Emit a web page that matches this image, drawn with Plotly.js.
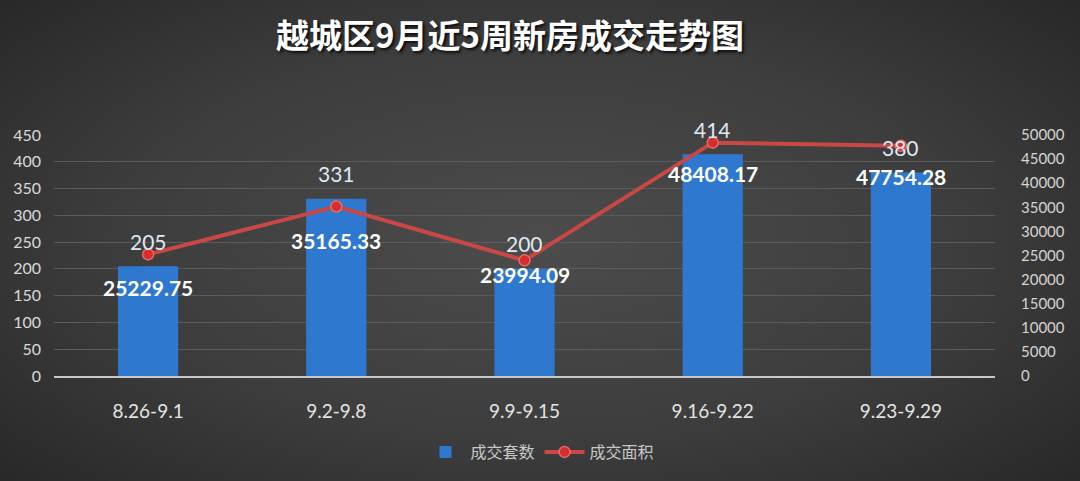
<!DOCTYPE html>
<html>
<head>
<meta charset="utf-8">
<script src="https://cdn.plot.ly/plotly-3.0.1.min.js"></script>
<style>
  html, body { margin: 0; padding: 0; }
  #chart {
    width: 1080px; height: 481px;
    background: radial-gradient(ellipse 70% 75% at 50% 50%, #4c4c4c 0%, #3d3d3d 55%, #272727 100%);
  }
</style>
</head>
<body>
<div id="chart"></div>
<script>
// Weekly new-home transactions, Yuecheng district
const weeks = ['8.26-9.1', '9.2-9.8', '9.9-9.15', '9.16-9.22', '9.23-9.29'];
const units = [205, 331, 200, 414, 380];                                   // 成交套数
const area = [25229.75, 35165.33, 23994.09, 48408.17, 47754.28];           // 成交面积
const leftTicks = [0, 50, 100, 150, 200, 250, 300, 350, 400, 450];
const rightTicks = [0, 5000, 10000, 15000, 20000, 25000, 30000, 35000, 40000, 45000, 50000];

const latin = 'Lato, "Noto Sans CJK SC", sans-serif';
const cjk = '"Noto Sans CJK SC", Lato, sans-serif';

// vertical drop (px) of each area label below its marker
const areaLabelDrop = [33, 34, 14, 31, 31];

const bars = {
  type: 'bar', name: '成交套数', x: weeks, y: units, yaxis: 'y',
  width: 0.32,
  marker: { color: '#2f78d0', line: { width: 0 } },
  hoverinfo: 'x+y'
};
const line = {
  type: 'scatter', mode: 'lines+markers', name: '成交面积', x: weeks, y: area, yaxis: 'y2',
  line: { color: '#c94846', width: 4 },
  marker: { color: '#d42e2e', size: 11, line: { color: '#e56a68', width: 1.5 } }
};

const annotations = [];
weeks.forEach((w, i) => {
  annotations.push({
    x: w, y: units[i], xref: 'x', yref: 'y',
    text: String(units[i]), showarrow: false,
    yanchor: 'middle', yshift: 25,
    font: { family: latin, size: 21, color: '#dfe8f3' }
  });
  annotations.push({
    x: w, y: area[i], xref: 'x', yref: 'y2',
    text: area[i].toFixed(2), showarrow: false,
    yanchor: 'middle', yshift: -areaLabelDrop[i],
    font: { family: latin, size: 21, color: '#ffffff', weight: 'bold' }
  });
});

const layout = {
  width: 1080, height: 481,
  paper_bgcolor: 'rgba(0,0,0,0)', plot_bgcolor: 'rgba(0,0,0,0)',
  margin: { l: 54, r: 85, t: 135, b: 105 },
  title: {
    text: '越城区9月近5周新房成交走势图',
    x: 510 / 1080, xref: 'container', xanchor: 'center',
    y: 1 - 36 / 481, yref: 'container', yanchor: 'middle',
    font: { family: cjk, size: 33, color: '#ffffff', weight: 'bold', shadow: '2px 2px 3px rgba(0,0,0,0.8)' }
  },
  showlegend: true,
  legend: {
    orientation: 'h', xref: 'container', yref: 'container',
    x: 0.5, xanchor: 'center', y: 1 - 452 / 481, yanchor: 'middle',
    font: { family: cjk, size: 16, color: '#c8c8c8' },
    bgcolor: 'rgba(0,0,0,0)', itemwidth: 40, tracegroupgap: 0
  },
  xaxis: {
    type: 'category', showgrid: false, zeroline: false,
    showline: true, linecolor: '#c8c8c8', linewidth: 1.5,
    ticks: '', ticklabelstandoff: 18,
    tickfont: { family: latin, size: 19, color: '#e4e4e4' }
  },
  yaxis: {
    range: [0, 450], tickvals: leftTicks, ticktext: leftTicks.map(String),
    showgrid: true, gridcolor: '#5c5c5c', gridwidth: 1,
    zeroline: false, showline: false, ticks: '', ticklabelstandoff: 12,
    tickfont: { family: latin, size: 16, color: '#dadada' }
  },
  yaxis2: {
    overlaying: 'y', side: 'right',
    range: [0, 50000], tickvals: rightTicks, ticktext: rightTicks.map(String),
    showgrid: false, zeroline: false, showline: false, ticks: '', ticklabelstandoff: 25,
    tickfont: { family: latin, size: 15, color: '#d4d4d4' }
  },
  annotations: annotations,
  bargap: 0.68
};

Plotly.newPlot('chart', [bars, line], layout, { displayModeBar: false, staticPlot: true });
</script>
</body>
</html>
